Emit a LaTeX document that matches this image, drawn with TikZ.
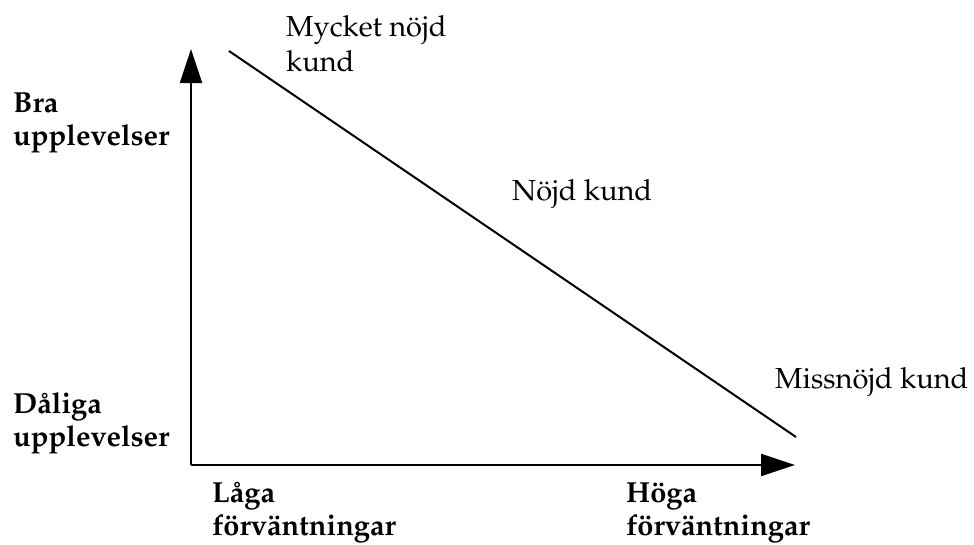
\documentclass[tikz,border=0pt]{standalone}
\usepackage[T1]{fontenc}
\usepackage{mathpazo}
\usetikzlibrary{arrows.meta}
\begin{document}
\begin{tikzpicture}[x=1pt,y=-1pt,
  axis/.style={line width=2pt,-{Triangle[length=34pt,width=22pt]}},
  diag/.style={line width=2pt},
  lbl/.style={anchor=base west,inner sep=0pt,align=left,font=\fontsize{29}{35}\selectfont},
  blbl/.style={lbl,font=\fontsize{29}{33}\selectfont\bfseries}]
\useasboundingbox (0,0) rectangle (974,544);
\coordinate (O) at (191,465);
\coordinate (Ytip) at (191,49);
\coordinate (Xtip) at (795,465);
\coordinate (D1) at (229,51);
\coordinate (D2) at (796,437);
\draw[axis] (O) -- (Ytip);
\draw[axis] (O) -- (Xtip);
\draw[diag] (D1) -- (D2);
\node[lbl] (mycket) at (286,71) {Mycket n\"ojd\\kund};
\node[lbl] (nojd) at (512,200) {N\"ojd kund};
\node[lbl] (missnojd) at (775,388) {Missn\"ojd kund};
\node[blbl] (bra) at (13,145) {Bra\\upplevelser};
\node[blbl] (daliga) at (13,446) {D\aa liga\\upplevelser};
\node[blbl] (laga) at (212,535) {L\aa ga\\f\"orv\"antningar};
\node[blbl] (hoga) at (626,535) {H\"oga\\f\"orv\"antningar};
\end{tikzpicture}
\end{document}
